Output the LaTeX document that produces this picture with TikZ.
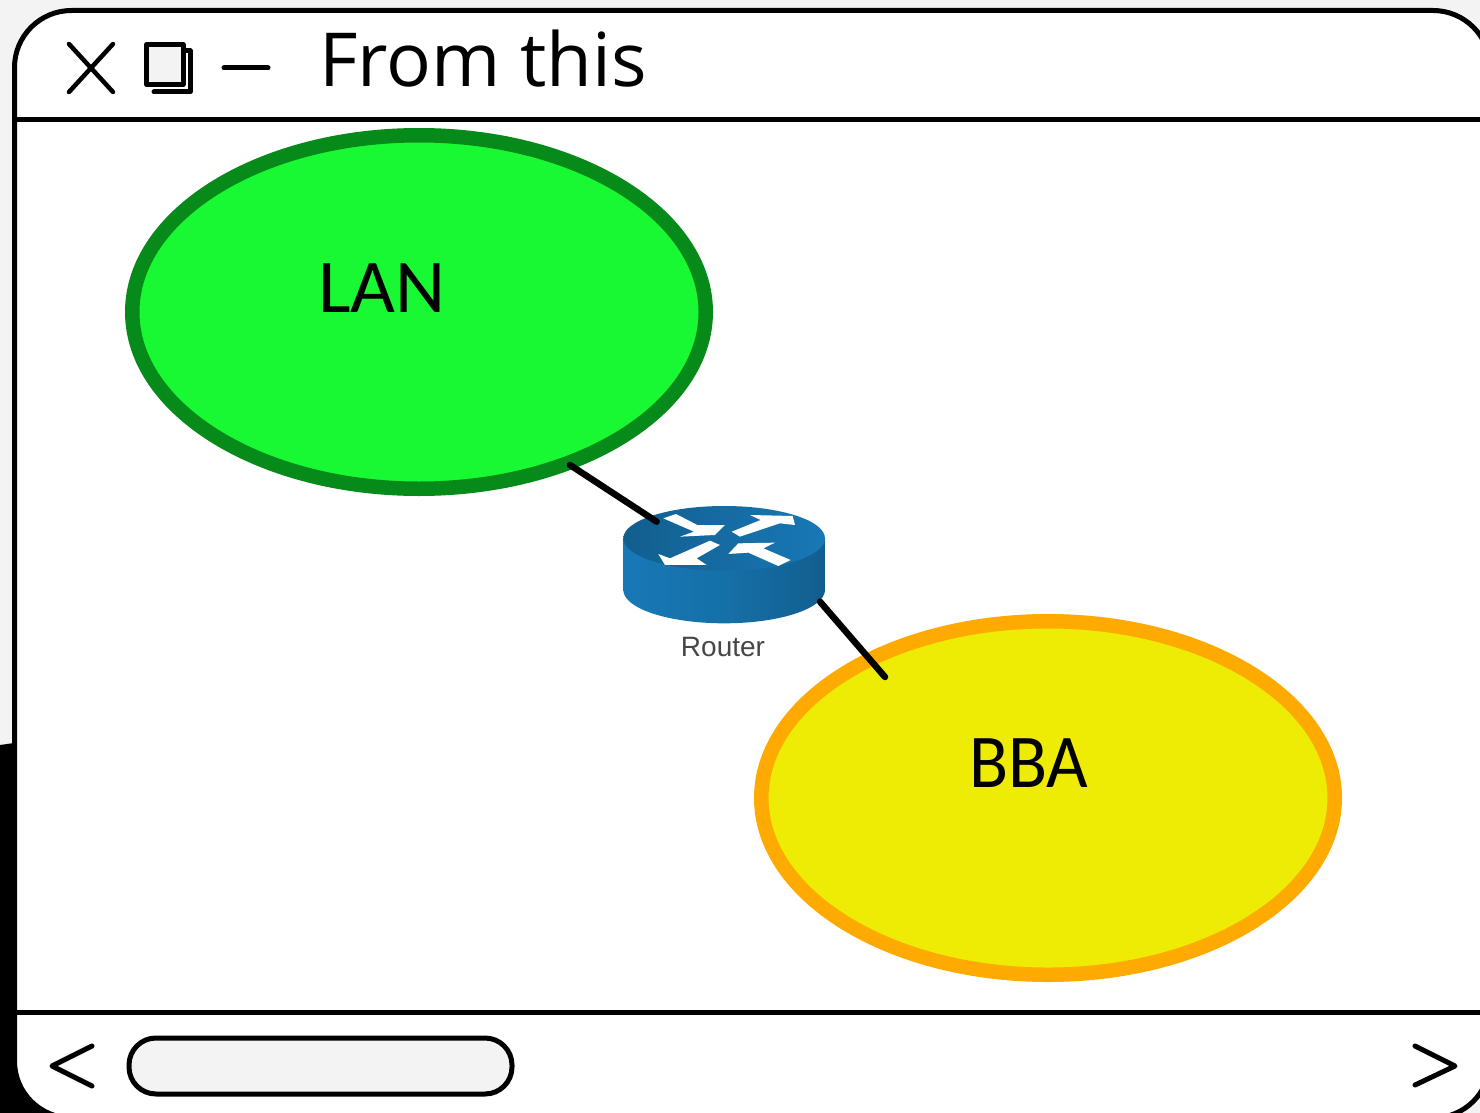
\documentclass[tikz,border=0pt]{standalone}
\usepackage{fontspec}
\usetikzlibrary{shapes.geometric}
\setmainfont{Open Sans}
\newfontfamily\calfont{Carlito}
\newfontfamily\arialfont{Liberation Sans}
\definecolor{pagegrey}{HTML}{F3F3F3}
\definecolor{lanfill}{HTML}{19F933}
\definecolor{lanline}{HTML}{068A1A}
\definecolor{bbafill}{HTML}{EEEC05}
\definecolor{bbaline}{HTML}{FFAA00}
\definecolor{rtrtop}{HTML}{1670A8}
\definecolor{rtrdark}{HTML}{125E8E}
\definecolor{rtrlight}{HTML}{1878B6}
\tikzset{
  ui/.style={draw=black,line width=5pt,line cap=round,line join=round},
  cloud/.style={ellipse,line width=14.5pt,minimum width=573.5pt,minimum height=353.5pt,inner sep=0pt,outer sep=0pt},
  cloudtext/.style={font=\calfont\fontsize{76}{76}\selectfont,anchor=base west,inner sep=0pt,outer sep=0pt},
  link/.style={draw=black,line width=6.5pt,line cap=round},
  arrowmark/.style={fill=white,draw=none},
}
\begin{document}
\begin{tikzpicture}[x=1pt,y=-1pt]
\useasboundingbox (0,0) rectangle (1480,1113);
% page behind the window
\fill[pagegrey] (0,0) rectangle (1480,1113);
\fill[black] (0,745) -- (14,743) -- (60,743) -- (60,1113) -- (0,1113) -- cycle;
% window
\begin{scope}
\clip (0,0) rectangle (1480,1113);
\draw[ui,fill=white,rounded corners=57pt] (14.5,10.5) rectangle (1490,1118);
\draw[ui,line cap=butt] (14.5,119.5) -- (1490,119.5);
\draw[ui,line cap=butt] (14.5,1012.5) -- (1490,1012.5);
\end{scope}
% title bar icons
\draw[ui,line width=4.5pt] (69,44) -- (113,92);
\draw[ui,line width=4.5pt] (113,44) -- (69,92);
\draw[ui,line width=5pt] (154,92) -- (190,92) -- (190,51) -- (184,51);
\draw[ui,line width=5pt,fill=pagegrey] (146.5,44.5) rectangle (183,84.5);
\draw[ui] (224,68) -- (268,68);
\node[anchor=base west,inner sep=0pt,font=\fontsize{74.5}{75}\selectfont] (title) at (319,87) {From this};
% scroll bar
\draw[ui] (92,1046) -- (52,1066) -- (92,1086);
\draw[ui] (1415,1046) -- (1455,1066) -- (1415,1085);
\draw[ui,fill=pagegrey,rounded corners=27pt] (129,1038) rectangle (512,1094);
% clouds
\node[cloud,draw=lanline,fill=lanfill] (lan) at (419,312) {};
\node[cloud,draw=bbaline,fill=bbafill] (bba) at (1048,798) {};
\node[cloudtext] (lantext) at (318,312) {\scalebox{1.02}[1]{LAN}};
\node[cloudtext] (bbatext) at (969,787) {\scalebox{0.945}[1]{BBA}};
% router icon
\begin{scope}[shift={(600,480)},x=0.3333pt,y=-0.3333pt]
\path[left color=rtrlight,right color=rtrdark,middle color=rtrtop]
  (70,175) -- (70,330) arc[start angle=180,end angle=0,x radius=302.5,y radius=100] -- (675,175) -- cycle;
\path[left color=rtrdark,right color=rtrlight] (372.5,175) ellipse[x radius=302.5,y radius=97];
\fill[arrowmark] (190,115) -- (228,102) -- (292,135) -- (375,135) -- (345,165) -- (240,170) -- (282,155) -- cycle;
\fill[arrowmark] (395,155) -- (482,120) -- (450,105) -- (578,108) -- (585,135) -- (540,130) -- (420,170) -- cycle;
\fill[arrowmark] (360,195) -- (290,235) -- (320,255) -- (195,255) -- (175,222) -- (210,235) -- (330,182) -- cycle;
\fill[arrowmark] (385,222) -- (415,190) -- (525,188) -- (490,205) -- (572,240) -- (535,258) -- (445,218) -- cycle;
\coordinate (rtrin) at (170,125);
\coordinate (rtrout) at (660,365);
\end{scope}
\node[inner sep=0pt,text=black!72,font=\arialfont\fontsize{28}{28}\selectfont] (routertext) at (723,647) {Router};
% connectors
\coordinate (lanport) at (570,465);
\coordinate (bbaport) at (885,677);
\draw[link] (lanport) -- (rtrin);
\draw[link] (rtrout) -- (bbaport);
\end{tikzpicture}
\end{document}
